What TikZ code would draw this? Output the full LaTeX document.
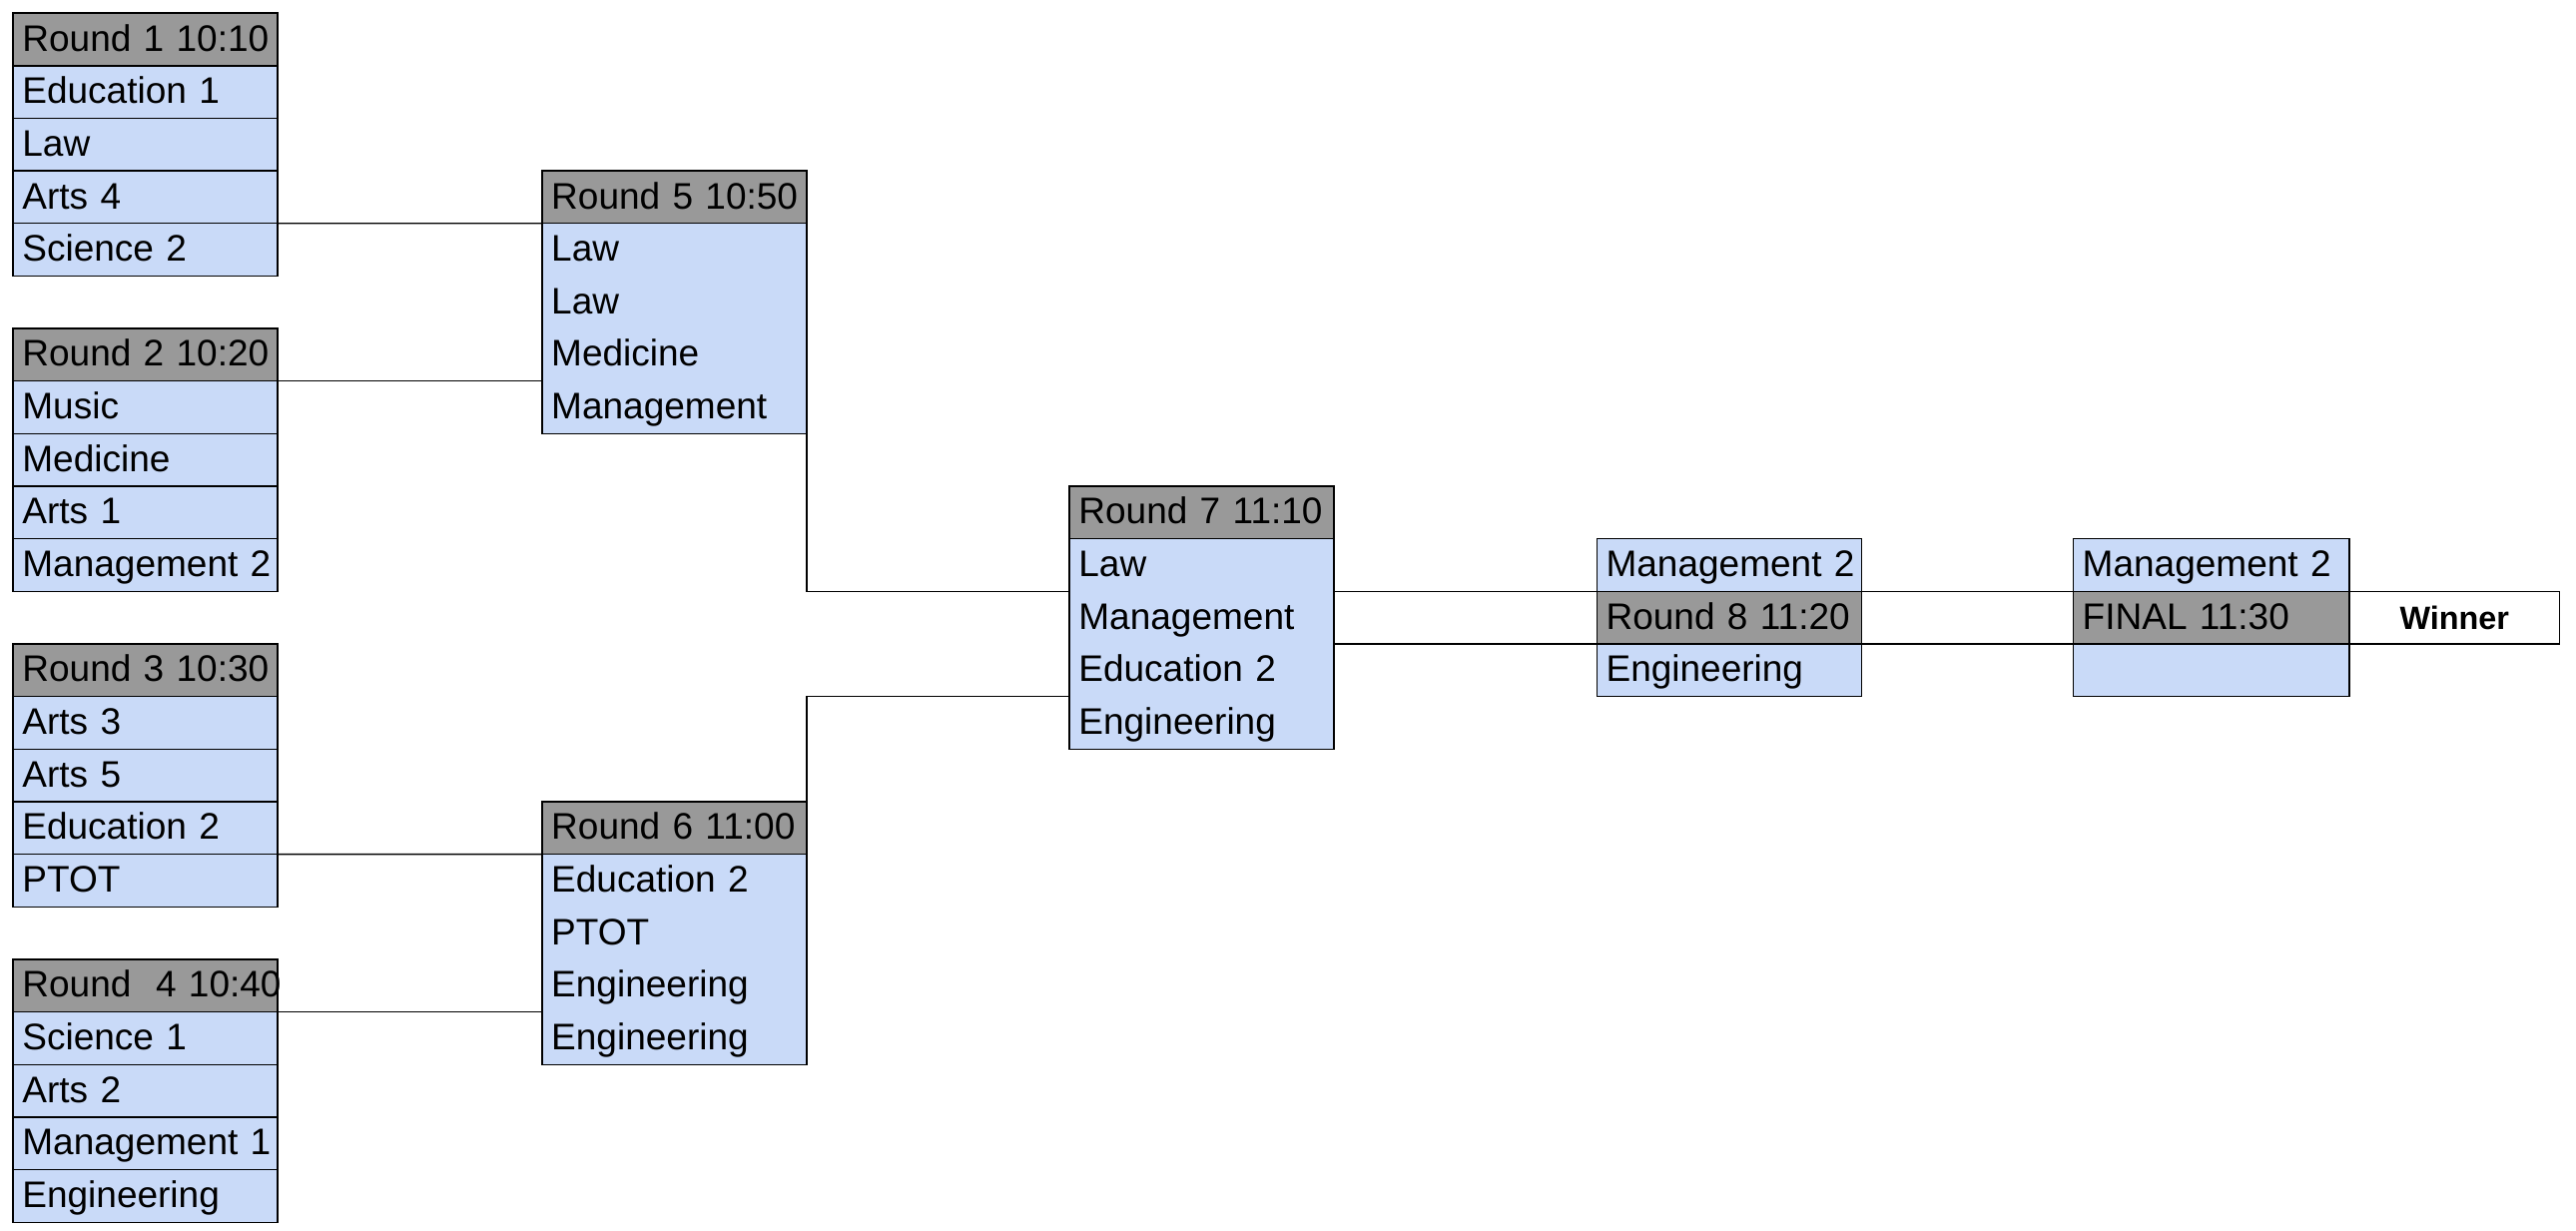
\documentclass[tikz,border=0pt]{standalone}
\usepackage{fontspec}
\setmainfont{Liberation Sans}
\usepackage{xcolor}
\usetikzlibrary{positioning}

\definecolor{headgray}{HTML}{999999}
\definecolor{teamblue}{HTML}{C9DAF8}

\begin{document}
\begin{tikzpicture}[
		x=0.25mm, y=-0.25mm,
		font=\fontsize{16}{22.76}\selectfont,
		cell/.style={draw, line width=0.6pt, outer sep=0pt,
			inner xsep=1.4mm, inner ysep=0pt,
			text width=37.45mm, align=left, minimum height=8mm,
			text height=1em, text depth=0pt},
		head/.style={cell, fill=headgray},
		team/.style={cell, fill=teamblue},
		body/.style={team, minimum height=32mm, text depth=24mm},
		link/.style={line width=0.6pt},
		]
		\useasboundingbox (0,0) rectangle (1568,749);
		
		% first column
		\node[head, anchor=north west] (r1) at (8,8) {Round~1~10:10};
		\node[team, below=0pt of r1] (r1a) {Education~1};
		\node[team, below=0pt of r1a] (r1b) {Law};
		\node[team, below=0pt of r1b] (r1c) {Arts~4};
		\node[team, below=0pt of r1c] (r1d) {Science~2};
		
		\node[head, anchor=north west] (r2) at (8,200) {Round~2~10:20};
		\node[team, below=0pt of r2] (r2a) {Music};
		\node[team, below=0pt of r2a] (r2b) {Medicine};
		\node[team, below=0pt of r2b] (r2c) {Arts~1};
		\node[team, below=0pt of r2c] (r2d) {Management~2};
		
		\node[head, anchor=north west] (r3) at (8,392) {Round~3~10:30};
		\node[team, below=0pt of r3] (r3a) {Arts~3};
		\node[team, below=0pt of r3a] (r3b) {Arts~5};
		\node[team, below=0pt of r3b] (r3c) {Education~2};
		\node[team, below=0pt of r3c] (r3d) {PTOT};
		
		\node[head, anchor=north west] (r4) at (8,584) {Round~~4~10:40};
		\node[team, below=0pt of r4] (r4a) {Science~1};
		\node[team, below=0pt of r4a] (r4b) {Arts~2};
		\node[team, below=0pt of r4b] (r4c) {Management~1};
		\node[team, below=0pt of r4c] (r4d) {Engineering};
		
		% second column
		\node[head, anchor=north west] (r5) at (330,104) {Round~5~10:50};
		\node[body, below=0pt of r5] (r5b) {Law\\Law\\Medicine\\Management};
		
		\node[head, anchor=north west] (r6) at (330,488) {Round~6~11:00};
		\node[body, below=0pt of r6] (r6b) {Education~2\\PTOT\\Engineering\\Engineering};
		
		% third column
		\node[head, anchor=north west] (r7) at (651,296) {Round~7~11:10};
		\node[body, below=0pt of r7] (r7b) {Law\\Management\\Education~2\\Engineering};
		
		% round 8 and final
		\node[team, anchor=north west] (r8a) at (972,328) {Management~2};
		\node[head, below=0pt of r8a] (r8b) {Round~8~11:20};
		\node[team, below=0pt of r8b] (r8c) {Engineering};
		
		\node[team, text width=39.2mm, anchor=north west] (fa) at (1262,328) {Management~2};
		\node[head, text width=39.2mm, below=0pt of fa] (fb) {FINAL~11:30};
		\node[team, text width=39.2mm, below=0pt of fb] (fc) {};
		
		\node[cell, fill=white, text width=29.2mm, align=center,
			font=\bfseries\fontsize{14}{17}\selectfont,
			anchor=north west] (win) at (fb.north east) {Winner};
		
		\draw[link] (r1c.south east) -- (r5.south west);
		\draw[link] (r2.south east) -- (r2.south east -| r5b.west);
		\draw[link] (r3c.south east) -- (r6.south west);
		\draw[link] (r4.south east) -- (r4.south east -| r6b.west);
		\draw[link] (r5b.south east) |- (r8a.south -| r7b.west);
		\draw[link] (r6.north east) |- (r8c.south -| r7b.west);
		\draw[link] (r8a.south -| r7b.east) -- (r8a.south west);
		\draw[link] (r8b.south -| r7b.east) -- (r8b.south west);
		\draw[link] (r8a.south east) -- (fa.south west);
		\draw[link] (r8b.south east) -- (fb.south west);
		
	\end{tikzpicture}
\end{document}
